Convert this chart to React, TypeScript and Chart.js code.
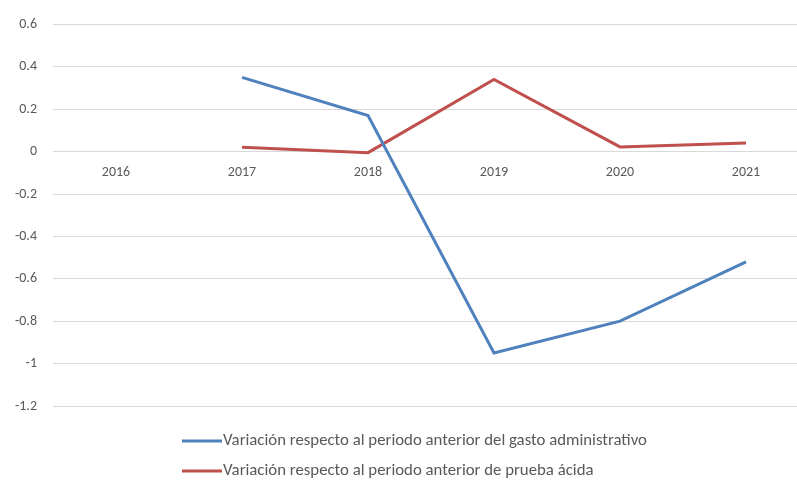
import React, { useEffect, useRef } from "react";
import { Chart, registerables } from "chart.js";

Chart.register(...registerables);

const years = ["2016", "2017", "2018", "2019", "2020", "2021"];
const gastoAdministrativo = [null, 0.35, 0.17, -0.95, -0.8, -0.52];
const pruebaAcida = [null, 0.02, -0.005, 0.34, 0.022, 0.04];
const seriesLabels = [
  "Variación respecto al periodo anterior del gasto administrativo",
  "Variación respecto al periodo anterior de prueba ácida",
];
const seriesColors = ["#4F81BD", "#C0504D"];

const FONT = "Carlito, Lato, 'Open Sans', sans-serif";
const TEXT = "#595959";

const legendPlugin = {
  id: "stackedLegend",
  afterDraw(chart: any) {
    const ctx = chart.ctx;
    ctx.save();
    ctx.font = `16.8px ${FONT}`;
    ctx.fillStyle = TEXT;
    ctx.textBaseline = "middle";
    const x0 = 182;
    const rows = [441, 471];
    chart.data.datasets.forEach((ds: any, i: number) => {
      const y = rows[i];
      ctx.strokeStyle = ds.borderColor;
      ctx.lineWidth = 3;
      ctx.beginPath();
      ctx.moveTo(x0, y);
      ctx.lineTo(x0 + 40, y);
      ctx.stroke();
      ctx.fillText(ds.label, x0 + 41, y);
    });
    ctx.restore();
  },
};

export default function App() {
  const ref = useRef<HTMLCanvasElement | null>(null);
  useEffect(() => {
    if (!ref.current) return;
    const chart = new Chart(ref.current, {
      type: "line",
      data: {
        labels: years,
        datasets: [
          {
            label: seriesLabels[0],
            data: gastoAdministrativo,
            borderColor: seriesColors[0],
            backgroundColor: seriesColors[0],
            borderWidth: 3,
            pointRadius: 0,
            tension: 0,
          },
          {
            label: seriesLabels[1],
            data: pruebaAcida,
            borderColor: seriesColors[1],
            backgroundColor: seriesColors[1],
            borderWidth: 3,
            pointRadius: 0,
            tension: 0,
          },
        ],
      },
      options: {
        responsive: false,
        animation: false,
        layout: { padding: { top: 22, bottom: 75, left: 0, right: 3 } },
        plugins: {
          legend: { display: false },
          tooltip: { enabled: false },
        },
        scales: {
          x: {
            type: "category",
            offset: true,
            position: { y: 0 } as any,
            grid: { display: false, drawTicks: false },
            border: { display: false },
            ticks: {
              padding: 12,
              color: TEXT,
              font: { family: FONT, size: 14 },
              maxRotation: 0,
            },
          },
          y: {
            min: -1.2,
            max: 0.6,
            grid: { color: "#D9D9D9", lineWidth: 1, drawTicks: false },
            border: { display: false },
            afterFit(scale: any) {
              scale.width = 53;
            },
            ticks: {
              stepSize: 0.2,
              padding: 16,
              color: TEXT,
              font: { family: FONT, size: 14 },
              callback: (v: any) => String(Math.round(Number(v) * 10) / 10),
            },
          },
        },
      },
      plugins: [legendPlugin],
    });
    return () => chart.destroy();
  }, []);
  return (
    <div
      style={{
        position: "fixed",
        left: 0,
        top: 0,
        width: 797,
        height: 481,
        overflow: "hidden",
        background: "#fff",
      }}
    >
      <canvas ref={ref} width={812} height={481} style={{ display: "block" }} />
    </div>
  );
}
